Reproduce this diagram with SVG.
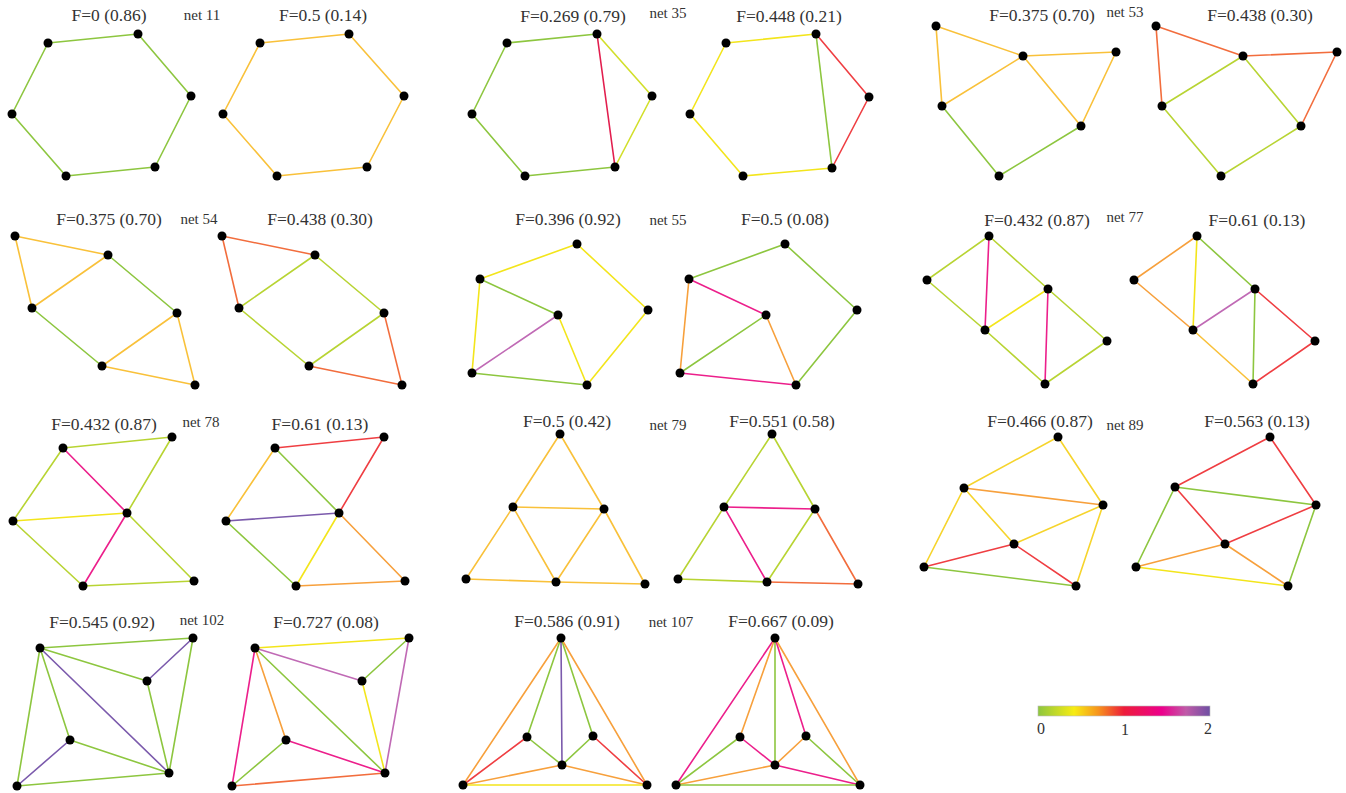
<svg xmlns="http://www.w3.org/2000/svg" width="1346" height="793" viewBox="0 0 1346 793">
<defs>
<style>
.t{font-family:"Liberation Serif","Times New Roman",serif;font-size:17.5px;fill:#333;text-anchor:middle}
.nl{font-family:"Liberation Serif","Times New Roman",serif;font-size:15px;fill:#333;text-anchor:middle}
.cb{font-family:"Liberation Serif","Times New Roman",serif;font-size:16px;fill:#333;text-anchor:middle}
line{stroke-width:1.6;stroke-linecap:round;fill:none}
circle{fill:#000}
.g{stroke:#8dc63f}.yg{stroke:#b8d433}.lyg{stroke:#d2df2a}.ye{stroke:#f3e51b}.gy{stroke:#f6d42c}.oy{stroke:#f9c13a}.or{stroke:#f7a03c}.orr{stroke:#f26d3d}.rd{stroke:#ef3e42}.cr{stroke:#e21e4e}.mg{stroke:#ec1f8b}.pp{stroke:#c06ab5}.pu{stroke:#7b5aac}
</style>
<linearGradient id="grad" x1="0" y1="0" x2="1" y2="0">
<stop offset="0" stop-color="#8dc63f"/>
<stop offset="0.21" stop-color="#f7ec13"/>
<stop offset="0.35" stop-color="#f7941d"/>
<stop offset="0.5" stop-color="#ed1c3a"/>
<stop offset="0.72" stop-color="#ec008c"/>
<stop offset="0.86" stop-color="#c05aa8"/>
<stop offset="1" stop-color="#6e4fa3"/>
</linearGradient>
</defs>
<rect width="1346" height="793" fill="#fff"/>

<g id="labels">
<text class="nl" x="202" y="20">net 11</text>
<text class="nl" x="668" y="18">net 35</text>
<text class="nl" x="1125" y="17">net 53</text>
<text class="nl" x="199" y="224">net 54</text>
<text class="nl" x="668" y="225">net 55</text>
<text class="nl" x="1125" y="222">net 77</text>
<text class="nl" x="201" y="427">net 78</text>
<text class="nl" x="668" y="430">net 79</text>
<text class="nl" x="1125" y="430">net 89</text>
<text class="nl" x="202" y="625">net 102</text>
<text class="nl" x="671" y="627">net 107</text>
</g>

<!-- net 11 A -->
<g id="p1">
<text class="t" x="109" y="21">F=0 (0.86)</text>
<g id="p1-edges">
<line class="g" x1="48" y1="43" x2="138" y2="34"/><line class="g" x1="138" y1="34" x2="191" y2="96"/><line class="g" x1="191" y1="96" x2="155" y2="167"/><line class="g" x1="155" y1="167" x2="66" y2="176"/><line class="g" x1="66" y1="176" x2="12" y2="114"/><line class="g" x1="12" y1="114" x2="48" y2="43"/>
</g>
<g id="p1-n1"><circle cx="48" cy="43" r="4.5"/></g><g id="p1-n2"><circle cx="138" cy="34" r="4.5"/></g><g id="p1-n3"><circle cx="191" cy="96" r="4.5"/></g><g id="p1-n4"><circle cx="155" cy="167" r="4.5"/></g><g id="p1-n5"><circle cx="66" cy="176" r="4.5"/></g><g id="p1-n6"><circle cx="12" cy="114" r="4.5"/></g>
</g>

<!-- net 11 B -->
<g id="p2">
<text class="t" x="323" y="21">F=0.5 (0.14)</text>
<g id="p2-edges">
<line class="oy" x1="260" y1="43" x2="349" y2="34"/><line class="oy" x1="349" y1="34" x2="404" y2="96"/><line class="oy" x1="404" y1="96" x2="367" y2="167"/><line class="oy" x1="367" y1="167" x2="277" y2="176"/><line class="oy" x1="277" y1="176" x2="223" y2="114"/><line class="oy" x1="223" y1="114" x2="260" y2="43"/>
</g>
<g id="p2-n1"><circle cx="260" cy="43" r="4.5"/></g><g id="p2-n2"><circle cx="349" cy="34" r="4.5"/></g><g id="p2-n3"><circle cx="404" cy="96" r="4.5"/></g><g id="p2-n4"><circle cx="367" cy="167" r="4.5"/></g><g id="p2-n5"><circle cx="277" cy="176" r="4.5"/></g><g id="p2-n6"><circle cx="223" cy="114" r="4.5"/></g>
</g>

<!-- net 35 A -->
<g id="p3">
<text class="t" x="573" y="22">F=0.269 (0.79)</text>
<g id="p3-edges">
<line class="g" x1="507" y1="43" x2="597" y2="34"/><line class="g" x1="507" y1="43" x2="472" y2="114"/><line class="g" x1="472" y1="114" x2="525" y2="176"/><line class="g" x1="525" y1="176" x2="615" y2="167"/><line class="lyg" x1="597" y1="34" x2="652" y2="96"/><line class="lyg" x1="652" y1="96" x2="615" y2="167"/><line class="cr" x1="597" y1="34" x2="615" y2="167"/>
</g>
<g id="p3-n1"><circle cx="507" cy="43" r="4.5"/></g><g id="p3-n2"><circle cx="597" cy="34" r="4.5"/></g><g id="p3-n3"><circle cx="652" cy="96" r="4.5"/></g><g id="p3-n4"><circle cx="615" cy="167" r="4.5"/></g><g id="p3-n5"><circle cx="525" cy="176" r="4.5"/></g><g id="p3-n6"><circle cx="472" cy="114" r="4.5"/></g>
</g>

<!-- net 35 B -->
<g id="p4">
<text class="t" x="789" y="22">F=0.448 (0.21)</text>
<g id="p4-edges">
<line class="ye" x1="726" y1="43" x2="816" y2="34"/><line class="ye" x1="726" y1="43" x2="690" y2="114"/><line class="ye" x1="690" y1="114" x2="743" y2="176"/><line class="ye" x1="743" y1="176" x2="832" y2="168"/><line class="g" x1="816" y1="34" x2="832" y2="168"/><line class="rd" x1="816" y1="34" x2="869" y2="97"/><line class="rd" x1="869" y1="97" x2="832" y2="168"/>
</g>
<g id="p4-n1"><circle cx="726" cy="43" r="4.5"/></g><g id="p4-n2"><circle cx="816" cy="34" r="4.5"/></g><g id="p4-n3"><circle cx="869" cy="97" r="4.5"/></g><g id="p4-n4"><circle cx="832" cy="168" r="4.5"/></g><g id="p4-n5"><circle cx="743" cy="176" r="4.5"/></g><g id="p4-n6"><circle cx="690" cy="114" r="4.5"/></g>
</g>

<!-- net 53 A -->
<g id="p5">
<text class="t" x="1042" y="21">F=0.375 (0.70)</text>
<g id="p5-edges">
<line class="oy" x1="936" y1="26" x2="1023" y2="56"/><line class="oy" x1="936" y1="26" x2="942" y2="106"/><line class="oy" x1="942" y1="106" x2="1023" y2="56"/><line class="oy" x1="1023" y1="56" x2="1116" y2="52"/><line class="oy" x1="1023" y1="56" x2="1081" y2="126"/><line class="oy" x1="1116" y1="52" x2="1081" y2="126"/><line class="g" x1="942" y1="106" x2="999" y2="176"/><line class="g" x1="999" y1="176" x2="1081" y2="126"/>
</g>
<g id="p5-n1"><circle cx="936" cy="26" r="4.5"/></g><g id="p5-n2"><circle cx="1023" cy="56" r="4.5"/></g><g id="p5-n3"><circle cx="1116" cy="52" r="4.5"/></g><g id="p5-n4"><circle cx="942" cy="106" r="4.5"/></g><g id="p5-n5"><circle cx="1081" cy="126" r="4.5"/></g><g id="p5-n6"><circle cx="999" cy="176" r="4.5"/></g>
</g>

<!-- net 53 B -->
<g id="p6">
<text class="t" x="1260" y="21">F=0.438 (0.30)</text>
<g id="p6-edges">
<line class="orr" x1="1156" y1="26" x2="1243" y2="56"/><line class="orr" x1="1156" y1="26" x2="1162" y2="106"/><line class="orr" x1="1243" y1="56" x2="1337" y2="52"/><line class="orr" x1="1337" y1="52" x2="1301" y2="126"/><line class="yg" x1="1162" y1="106" x2="1243" y2="56"/><line class="yg" x1="1243" y1="56" x2="1301" y2="126"/><line class="yg" x1="1162" y1="106" x2="1221" y2="176"/><line class="yg" x1="1221" y1="176" x2="1301" y2="126"/>
</g>
<g id="p6-n1"><circle cx="1156" cy="26" r="4.5"/></g><g id="p6-n2"><circle cx="1243" cy="56" r="4.5"/></g><g id="p6-n3"><circle cx="1337" cy="52" r="4.5"/></g><g id="p6-n4"><circle cx="1162" cy="106" r="4.5"/></g><g id="p6-n5"><circle cx="1301" cy="126" r="4.5"/></g><g id="p6-n6"><circle cx="1221" cy="176" r="4.5"/></g>
</g>

<!-- net 54 A -->
<g id="p7">
<text class="t" x="109" y="225">F=0.375 (0.70)</text>
<g id="p7-edges">
<line class="oy" x1="15" y1="236" x2="108" y2="255"/><line class="oy" x1="15" y1="236" x2="32" y2="308"/><line class="oy" x1="32" y1="308" x2="108" y2="255"/><line class="g" x1="108" y1="255" x2="177" y2="313"/><line class="g" x1="32" y1="308" x2="102" y2="366"/><line class="oy" x1="102" y1="366" x2="177" y2="313"/><line class="oy" x1="177" y1="313" x2="195" y2="385"/><line class="oy" x1="102" y1="366" x2="195" y2="385"/>
</g>
<g id="p7-n1"><circle cx="15" cy="236" r="4.5"/></g><g id="p7-n2"><circle cx="108" cy="255" r="4.5"/></g><g id="p7-n3"><circle cx="32" cy="308" r="4.5"/></g><g id="p7-n4"><circle cx="177" cy="313" r="4.5"/></g><g id="p7-n5"><circle cx="102" cy="366" r="4.5"/></g><g id="p7-n6"><circle cx="195" cy="385" r="4.5"/></g>
</g>

<!-- net 54 B -->
<g id="p8">
<text class="t" x="320" y="225">F=0.438 (0.30)</text>
<g id="p8-edges">
<line class="orr" x1="222" y1="236" x2="315" y2="255"/><line class="orr" x1="222" y1="236" x2="239" y2="308"/><line class="yg" x1="239" y1="308" x2="315" y2="255"/><line class="yg" x1="315" y1="255" x2="384" y2="313"/><line class="yg" x1="239" y1="308" x2="309" y2="366"/><line class="yg" x1="309" y1="366" x2="384" y2="313"/><line class="orr" x1="384" y1="313" x2="402" y2="385"/><line class="orr" x1="309" y1="366" x2="402" y2="385"/>
</g>
<g id="p8-n1"><circle cx="222" cy="236" r="4.5"/></g><g id="p8-n2"><circle cx="315" cy="255" r="4.5"/></g><g id="p8-n3"><circle cx="239" cy="308" r="4.5"/></g><g id="p8-n4"><circle cx="384" cy="313" r="4.5"/></g><g id="p8-n5"><circle cx="309" cy="366" r="4.5"/></g><g id="p8-n6"><circle cx="402" cy="385" r="4.5"/></g>
</g>

<!-- net 55 A -->
<g id="p9">
<text class="t" x="568" y="225">F=0.396 (0.92)</text>
<g id="p9-edges">
<line class="ye" x1="480" y1="279" x2="577" y2="244"/><line class="ye" x1="577" y1="244" x2="648" y2="310"/><line class="ye" x1="648" y1="310" x2="587" y2="385"/><line class="g" x1="480" y1="279" x2="558" y2="315"/><line class="ye" x1="480" y1="279" x2="472" y2="373"/><line class="pp" x1="472" y1="373" x2="558" y2="315"/><line class="ye" x1="558" y1="315" x2="587" y2="385"/><line class="g" x1="472" y1="373" x2="587" y2="385"/>
</g>
<g id="p9-n1"><circle cx="577" cy="244" r="4.5"/></g><g id="p9-n2"><circle cx="480" cy="279" r="4.5"/></g><g id="p9-n3"><circle cx="648" cy="310" r="4.5"/></g><g id="p9-n4"><circle cx="558" cy="315" r="4.5"/></g><g id="p9-n5"><circle cx="472" cy="373" r="4.5"/></g><g id="p9-n6"><circle cx="587" cy="385" r="4.5"/></g>
</g>

<!-- net 55 B -->
<g id="p10">
<text class="t" x="785" y="225">F=0.5 (0.08)</text>
<g id="p10-edges">
<line class="g" x1="689" y1="279" x2="785" y2="244"/><line class="g" x1="785" y1="244" x2="857" y2="310"/><line class="g" x1="857" y1="310" x2="796" y2="385"/><line class="mg" x1="689" y1="279" x2="766" y2="315"/><line class="or" x1="689" y1="279" x2="680" y2="373"/><line class="g" x1="680" y1="373" x2="766" y2="315"/><line class="or" x1="766" y1="315" x2="796" y2="385"/><line class="mg" x1="680" y1="373" x2="796" y2="385"/>
</g>
<g id="p10-n1"><circle cx="785" cy="244" r="4.5"/></g><g id="p10-n2"><circle cx="689" cy="279" r="4.5"/></g><g id="p10-n3"><circle cx="857" cy="310" r="4.5"/></g><g id="p10-n4"><circle cx="766" cy="315" r="4.5"/></g><g id="p10-n5"><circle cx="680" cy="373" r="4.5"/></g><g id="p10-n6"><circle cx="796" cy="385" r="4.5"/></g>
</g>

<!-- net 77 A -->
<g id="p11">
<text class="t" x="1037" y="226">F=0.432 (0.87)</text>
<g id="p11-edges">
<line class="yg" x1="989" y1="236" x2="927" y2="280"/><line class="yg" x1="989" y1="236" x2="1048" y2="289"/><line class="mg" x1="989" y1="236" x2="985" y2="330"/><line class="yg" x1="927" y1="280" x2="985" y2="330"/><line class="ye" x1="985" y1="330" x2="1048" y2="289"/><line class="mg" x1="1048" y1="289" x2="1045" y2="384"/><line class="yg" x1="1048" y1="289" x2="1107" y2="341"/><line class="yg" x1="985" y1="330" x2="1045" y2="384"/><line class="yg" x1="1045" y1="384" x2="1107" y2="341"/>
</g>
<g id="p11-n1"><circle cx="989" cy="236" r="4.5"/></g><g id="p11-n2"><circle cx="927" cy="280" r="4.5"/></g><g id="p11-n3"><circle cx="1048" cy="289" r="4.5"/></g><g id="p11-n4"><circle cx="985" cy="330" r="4.5"/></g><g id="p11-n5"><circle cx="1107" cy="341" r="4.5"/></g><g id="p11-n6"><circle cx="1045" cy="384" r="4.5"/></g>
</g>

<!-- net 77 B -->
<g id="p12">
<text class="t" x="1257" y="226">F=0.61 (0.13)</text>
<g id="p12-edges">
<line class="or" x1="1197" y1="236" x2="1134" y2="280"/><line class="g" x1="1197" y1="236" x2="1255" y2="289"/><line class="ye" x1="1197" y1="236" x2="1193" y2="330"/><line class="or" x1="1134" y1="280" x2="1193" y2="330"/><line class="pp" x1="1193" y1="330" x2="1255" y2="289"/><line class="g" x1="1255" y1="289" x2="1253" y2="384"/><line class="rd" x1="1255" y1="289" x2="1315" y2="341"/><line class="oy" x1="1193" y1="330" x2="1253" y2="384"/><line class="rd" x1="1253" y1="384" x2="1315" y2="341"/>
</g>
<g id="p12-n1"><circle cx="1197" cy="236" r="4.5"/></g><g id="p12-n2"><circle cx="1134" cy="280" r="4.5"/></g><g id="p12-n3"><circle cx="1255" cy="289" r="4.5"/></g><g id="p12-n4"><circle cx="1193" cy="330" r="4.5"/></g><g id="p12-n5"><circle cx="1315" cy="341" r="4.5"/></g><g id="p12-n6"><circle cx="1253" cy="384" r="4.5"/></g>
</g>

<!-- net 78 A -->
<g id="p13">
<text class="t" x="104" y="430">F=0.432 (0.87)</text>
<g id="p13-edges">
<line class="yg" x1="63" y1="448" x2="172" y2="437"/><line class="yg" x1="63" y1="448" x2="13" y2="521"/><line class="mg" x1="63" y1="448" x2="127" y2="513"/><line class="yg" x1="172" y1="437" x2="127" y2="513"/><line class="ye" x1="13" y1="521" x2="127" y2="513"/><line class="yg" x1="13" y1="521" x2="83" y2="586"/><line class="mg" x1="127" y1="513" x2="83" y2="586"/><line class="yg" x1="127" y1="513" x2="194" y2="581"/><line class="yg" x1="83" y1="586" x2="194" y2="581"/>
</g>
<g id="p13-n1"><circle cx="63" cy="448" r="4.5"/></g><g id="p13-n2"><circle cx="172" cy="437" r="4.5"/></g><g id="p13-n3"><circle cx="13" cy="521" r="4.5"/></g><g id="p13-n4"><circle cx="127" cy="513" r="4.5"/></g><g id="p13-n5"><circle cx="83" cy="586" r="4.5"/></g><g id="p13-n6"><circle cx="194" cy="581" r="4.5"/></g>
</g>

<!-- net 78 B -->
<g id="p14">
<text class="t" x="320" y="430">F=0.61 (0.13)</text>
<g id="p14-edges">
<line class="rd" x1="275" y1="448" x2="384" y2="437"/><line class="oy" x1="275" y1="448" x2="226" y2="521"/><line class="g" x1="275" y1="448" x2="339" y2="513"/><line class="rd" x1="384" y1="437" x2="339" y2="513"/><line class="pu" x1="226" y1="521" x2="339" y2="513"/><line class="g" x1="226" y1="521" x2="296" y2="586"/><line class="ye" x1="339" y1="513" x2="296" y2="586"/><line class="or" x1="339" y1="513" x2="405" y2="581"/><line class="or" x1="296" y1="586" x2="405" y2="581"/>
</g>
<g id="p14-n1"><circle cx="275" cy="448" r="4.5"/></g><g id="p14-n2"><circle cx="384" cy="437" r="4.5"/></g><g id="p14-n3"><circle cx="226" cy="521" r="4.5"/></g><g id="p14-n4"><circle cx="339" cy="513" r="4.5"/></g><g id="p14-n5"><circle cx="296" cy="586" r="4.5"/></g><g id="p14-n6"><circle cx="405" cy="581" r="4.5"/></g>
</g>

<!-- net 79 A -->
<g id="p15">
<text class="t" x="567" y="427">F=0.5 (0.42)</text>
<g id="p15-edges">
<line class="oy" x1="560" y1="434" x2="513" y2="507"/><line class="oy" x1="560" y1="434" x2="604" y2="509"/><line class="oy" x1="513" y1="507" x2="604" y2="509"/><line class="oy" x1="513" y1="507" x2="466" y2="579"/><line class="oy" x1="513" y1="507" x2="556" y2="582"/><line class="oy" x1="604" y1="509" x2="556" y2="582"/><line class="oy" x1="604" y1="509" x2="645" y2="584"/><line class="oy" x1="466" y1="579" x2="556" y2="582"/><line class="oy" x1="556" y1="582" x2="645" y2="584"/>
</g>
<g id="p15-n1"><circle cx="560" cy="434" r="4.5"/></g><g id="p15-n2"><circle cx="513" cy="507" r="4.5"/></g><g id="p15-n3"><circle cx="604" cy="509" r="4.5"/></g><g id="p15-n4"><circle cx="466" cy="579" r="4.5"/></g><g id="p15-n5"><circle cx="556" cy="582" r="4.5"/></g><g id="p15-n6"><circle cx="645" cy="584" r="4.5"/></g>
</g>

<!-- net 79 B -->
<g id="p16">
<text class="t" x="782" y="427">F=0.551 (0.58)</text>
<g id="p16-edges">
<line class="yg" x1="772" y1="434" x2="724" y2="507"/><line class="yg" x1="772" y1="434" x2="815" y2="509"/><line class="mg" x1="724" y1="507" x2="815" y2="509"/><line class="yg" x1="724" y1="507" x2="678" y2="579"/><line class="mg" x1="724" y1="507" x2="767" y2="582"/><line class="yg" x1="815" y1="509" x2="767" y2="582"/><line class="orr" x1="815" y1="509" x2="858" y2="584"/><line class="yg" x1="678" y1="579" x2="767" y2="582"/><line class="orr" x1="767" y1="582" x2="858" y2="584"/>
</g>
<g id="p16-n1"><circle cx="772" cy="434" r="4.5"/></g><g id="p16-n2"><circle cx="724" cy="507" r="4.5"/></g><g id="p16-n3"><circle cx="815" cy="509" r="4.5"/></g><g id="p16-n4"><circle cx="678" cy="579" r="4.5"/></g><g id="p16-n5"><circle cx="767" cy="582" r="4.5"/></g><g id="p16-n6"><circle cx="858" cy="584" r="4.5"/></g>
</g>

<!-- net 89 A -->
<g id="p17">
<text class="t" x="1040" y="427">F=0.466 (0.87)</text>
<g id="p17-edges">
<line class="gy" x1="964" y1="488" x2="1058" y2="437"/><line class="gy" x1="1058" y1="437" x2="1103" y2="505"/><line class="or" x1="964" y1="488" x2="1103" y2="505"/><line class="gy" x1="964" y1="488" x2="924" y2="567"/><line class="gy" x1="964" y1="488" x2="1014" y2="544"/><line class="gy" x1="1014" y1="544" x2="1103" y2="505"/><line class="gy" x1="1103" y1="505" x2="1076" y2="586"/><line class="rd" x1="924" y1="567" x2="1014" y2="544"/><line class="rd" x1="1014" y1="544" x2="1076" y2="586"/><line class="g" x1="924" y1="567" x2="1076" y2="586"/>
</g>
<g id="p17-n1"><circle cx="1058" cy="437" r="4.5"/></g><g id="p17-n2"><circle cx="964" cy="488" r="4.5"/></g><g id="p17-n3"><circle cx="1103" cy="505" r="4.5"/></g><g id="p17-n4"><circle cx="1014" cy="544" r="4.5"/></g><g id="p17-n5"><circle cx="924" cy="567" r="4.5"/></g><g id="p17-n6"><circle cx="1076" cy="586" r="4.5"/></g>
</g>

<!-- net 89 B -->
<g id="p18">
<text class="t" x="1257" y="427">F=0.563 (0.13)</text>
<g id="p18-edges">
<line class="rd" x1="1175" y1="487" x2="1270" y2="437"/><line class="rd" x1="1270" y1="437" x2="1316" y2="505"/><line class="g" x1="1175" y1="487" x2="1316" y2="505"/><line class="g" x1="1175" y1="487" x2="1136" y2="567"/><line class="rd" x1="1175" y1="487" x2="1225" y2="544"/><line class="rd" x1="1225" y1="544" x2="1316" y2="505"/><line class="g" x1="1316" y1="505" x2="1288" y2="586"/><line class="or" x1="1136" y1="567" x2="1225" y2="544"/><line class="or" x1="1225" y1="544" x2="1288" y2="586"/><line class="ye" x1="1136" y1="567" x2="1288" y2="586"/>
</g>
<g id="p18-n1"><circle cx="1270" cy="437" r="4.5"/></g><g id="p18-n2"><circle cx="1175" cy="487" r="4.5"/></g><g id="p18-n3"><circle cx="1316" cy="505" r="4.5"/></g><g id="p18-n4"><circle cx="1225" cy="544" r="4.5"/></g><g id="p18-n5"><circle cx="1136" cy="567" r="4.5"/></g><g id="p18-n6"><circle cx="1288" cy="586" r="4.5"/></g>
</g>

<!-- net 102 A -->
<g id="p19">
<text class="t" x="102" y="628">F=0.545 (0.92)</text>
<g id="p19-edges">
<line class="g" x1="40" y1="648" x2="193" y2="638"/><line class="g" x1="40" y1="648" x2="147" y2="681"/><line class="pu" x1="40" y1="648" x2="169" y2="773"/><line class="g" x1="40" y1="648" x2="70" y2="740"/><line class="g" x1="40" y1="648" x2="17" y2="786"/><line class="pu" x1="193" y1="638" x2="147" y2="681"/><line class="g" x1="193" y1="638" x2="169" y2="773"/><line class="g" x1="147" y1="681" x2="169" y2="773"/><line class="pu" x1="70" y1="740" x2="17" y2="786"/><line class="g" x1="70" y1="740" x2="169" y2="773"/><line class="g" x1="17" y1="786" x2="169" y2="773"/>
</g>
<g id="p19-n1"><circle cx="40" cy="648" r="4.5"/></g><g id="p19-n2"><circle cx="193" cy="638" r="4.5"/></g><g id="p19-n3"><circle cx="147" cy="681" r="4.5"/></g><g id="p19-n4"><circle cx="70" cy="740" r="4.5"/></g><g id="p19-n5"><circle cx="169" cy="773" r="4.5"/></g><g id="p19-n6"><circle cx="17" cy="786" r="4.5"/></g>
</g>

<!-- net 102 B -->
<g id="p20">
<text class="t" x="326" y="628">F=0.727 (0.08)</text>
<g id="p20-edges">
<line class="ye" x1="255" y1="648" x2="409" y2="638"/><line class="pp" x1="255" y1="648" x2="362" y2="681"/><line class="g" x1="255" y1="648" x2="385" y2="773"/><line class="or" x1="255" y1="648" x2="286" y2="740"/><line class="mg" x1="255" y1="648" x2="232" y2="786"/><line class="g" x1="409" y1="638" x2="362" y2="681"/><line class="pp" x1="409" y1="638" x2="385" y2="773"/><line class="ye" x1="362" y1="681" x2="385" y2="773"/><line class="g" x1="286" y1="740" x2="232" y2="786"/><line class="mg" x1="286" y1="740" x2="385" y2="773"/><line class="orr" x1="232" y1="786" x2="385" y2="773"/>
</g>
<g id="p20-n1"><circle cx="255" cy="648" r="4.5"/></g><g id="p20-n2"><circle cx="409" cy="638" r="4.5"/></g><g id="p20-n3"><circle cx="362" cy="681" r="4.5"/></g><g id="p20-n4"><circle cx="286" cy="740" r="4.5"/></g><g id="p20-n5"><circle cx="385" cy="773" r="4.5"/></g><g id="p20-n6"><circle cx="232" cy="786" r="4.5"/></g>
</g>

<!-- net 107 A -->
<g id="p21">
<text class="t" x="567" y="627">F=0.586 (0.91)</text>
<g id="p21-edges">
<line class="or" x1="561" y1="638" x2="463" y2="785"/><line class="g" x1="561" y1="638" x2="527" y2="737"/><line class="pu" x1="561" y1="638" x2="562" y2="765"/><line class="g" x1="561" y1="638" x2="593" y2="736"/><line class="or" x1="561" y1="638" x2="647" y2="785"/><line class="rd" x1="527" y1="737" x2="463" y2="785"/><line class="g" x1="527" y1="737" x2="562" y2="765"/><line class="g" x1="593" y1="736" x2="562" y2="765"/><line class="rd" x1="593" y1="736" x2="647" y2="785"/><line class="or" x1="463" y1="785" x2="562" y2="765"/><line class="or" x1="562" y1="765" x2="647" y2="785"/><line class="ye" x1="463" y1="785" x2="647" y2="785"/>
</g>
<g id="p21-n1"><circle cx="561" cy="638" r="4.5"/></g><g id="p21-n2"><circle cx="527" cy="737" r="4.5"/></g><g id="p21-n3"><circle cx="593" cy="736" r="4.5"/></g><g id="p21-n4"><circle cx="562" cy="765" r="4.5"/></g><g id="p21-n5"><circle cx="463" cy="785" r="4.5"/></g><g id="p21-n6"><circle cx="647" cy="785" r="4.5"/></g>
</g>

<!-- net 107 B -->
<g id="p22">
<text class="t" x="781" y="627">F=0.667 (0.09)</text>
<g id="p22-edges">
<line class="mg" x1="775" y1="638" x2="676" y2="785"/><line class="or" x1="775" y1="638" x2="740" y2="737"/><line class="g" x1="775" y1="638" x2="775" y2="765"/><line class="mg" x1="775" y1="638" x2="806" y2="736"/><line class="or" x1="775" y1="638" x2="860" y2="785"/><line class="g" x1="740" y1="737" x2="676" y2="785"/><line class="mg" x1="740" y1="737" x2="775" y2="765"/><line class="or" x1="806" y1="736" x2="775" y2="765"/><line class="g" x1="806" y1="736" x2="860" y2="785"/><line class="or" x1="676" y1="785" x2="775" y2="765"/><line class="mg" x1="775" y1="765" x2="860" y2="785"/><line class="g" x1="676" y1="785" x2="860" y2="785"/>
</g>
<g id="p22-n1"><circle cx="775" cy="638" r="4.5"/></g><g id="p22-n2"><circle cx="740" cy="737" r="4.5"/></g><g id="p22-n3"><circle cx="806" cy="736" r="4.5"/></g><g id="p22-n4"><circle cx="775" cy="765" r="4.5"/></g><g id="p22-n5"><circle cx="676" cy="785" r="4.5"/></g><g id="p22-n6"><circle cx="860" cy="785" r="4.5"/></g>
</g>

<!-- colour bar -->
<g id="colorbar">
<rect x="1038" y="706" width="172" height="10" fill="url(#grad)" stroke="#bbb" stroke-width="0.6"/>
<text class="cb" x="1041" y="734">0</text>
<text class="cb" x="1125" y="735">1</text>
<text class="cb" x="1208" y="734">2</text>
</g>
</svg>
